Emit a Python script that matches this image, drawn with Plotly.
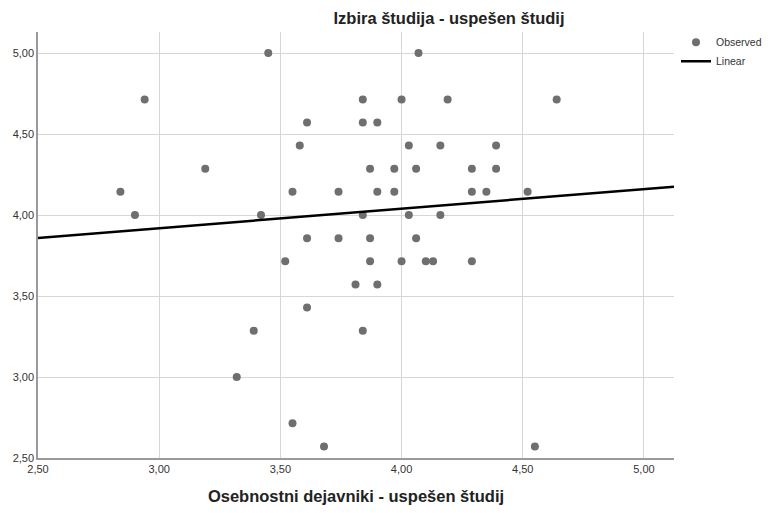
import plotly.graph_objects as go

# Observed points (x: Osebnostni dejavniki, y: Izbira študija)
obs_x = [3.45, 4.07,
         2.94, 3.84, 4.00, 4.19, 4.64,
         3.61, 3.84, 3.90,
         3.58, 4.03, 4.16, 4.39,
         3.19, 3.87, 3.97, 4.06, 4.29, 4.39,
         2.84, 3.55, 3.74, 3.90, 3.97, 4.29, 4.35, 4.52,
         2.90, 3.42, 3.84, 4.03, 4.16,
         3.61, 3.74, 3.87, 4.06,
         3.52, 3.87, 4.00, 4.10, 4.13, 4.29,
         3.81, 3.90,
         3.61,
         3.39, 3.84,
         3.32,
         3.55,
         3.68, 4.55]
obs_y = [5.000, 5.000,
         4.714, 4.714, 4.714, 4.714, 4.714,
         4.571, 4.571, 4.571,
         4.429, 4.429, 4.429, 4.429,
         4.286, 4.286, 4.286, 4.286, 4.286, 4.286,
         4.143, 4.143, 4.143, 4.143, 4.143, 4.143, 4.143, 4.143,
         4.000, 4.000, 4.000, 4.000, 4.000,
         3.857, 3.857, 3.857, 3.857,
         3.714, 3.714, 3.714, 3.714, 3.714, 3.714,
         3.571, 3.571,
         3.429,
         3.286, 3.286,
         3.000,
         2.714,
         2.571, 2.571]

# Linear fit line
fit_x = [2.50, 5.124]
fit_y = [3.858, 4.175]

tick_vals = [2.5, 3.0, 3.5, 4.0, 4.5, 5.0]
tick_text = ["2,50", "3,00", "3,50", "4,00", "4,50", "5,00"]

fig = go.Figure()
fig.add_trace(go.Scatter(x=obs_x, y=obs_y, mode="markers", name="Observed",
                         marker=dict(color="#6f6f6f", size=8, line=dict(width=0))))
fig.add_trace(go.Scatter(x=fit_x, y=fit_y, mode="lines", name="Linear",
                         line=dict(color="black", width=2.5)))

axis_common = dict(tickvals=tick_vals, ticktext=tick_text, showgrid=True,
                   gridcolor="#d6d6d6", gridwidth=1, showline=True,
                   linecolor="#9a9a9a", linewidth=1.5, zeroline=False,
                   ticks="", automargin=False,
                   tickfont=dict(family="Liberation Sans, Arial", size=11, color="#333333"))

plot_w = 777 - 38 - 103

fig.update_layout(
    width=777, height=513, autosize=False,
    margin=dict(l=38, r=103, t=32, b=55, autoexpand=False),
    plot_bgcolor="white", paper_bgcolor="white",
    title=dict(text="<b>Izbira študija - uspešen študij</b>", x=449/777, xanchor="center",
               y=1 - 18/513, yanchor="middle", automargin=False,
               font=dict(family="Liberation Sans, Arial", size=16.5, color="#222222")),
    xaxis=dict(range=[2.5, 5.124], title=dict(text="<b>Osebnostni dejavniki - uspešen študij</b>",
               font=dict(family="Liberation Sans, Arial", size=16.5, color="#222222"), standoff=16),
               **axis_common),
    yaxis=dict(range=[2.5, 5.13], **axis_common),
    legend=dict(x=(676 - 38) / plot_w, y=1.01, xanchor="left", yanchor="top", bgcolor="rgba(0,0,0,0)",
                font=dict(family="Liberation Sans, Arial", size=10.5, color="#333333"),
                itemwidth=30, tracegroupgap=0),
    showlegend=True,
)

fig.write_html(
    "out.html",
    config={"responsive": False, "displayModeBar": False},
    default_width="777px", default_height="513px",
    post_script="document.body.style.margin='0';document.body.style.padding='0';",
)
